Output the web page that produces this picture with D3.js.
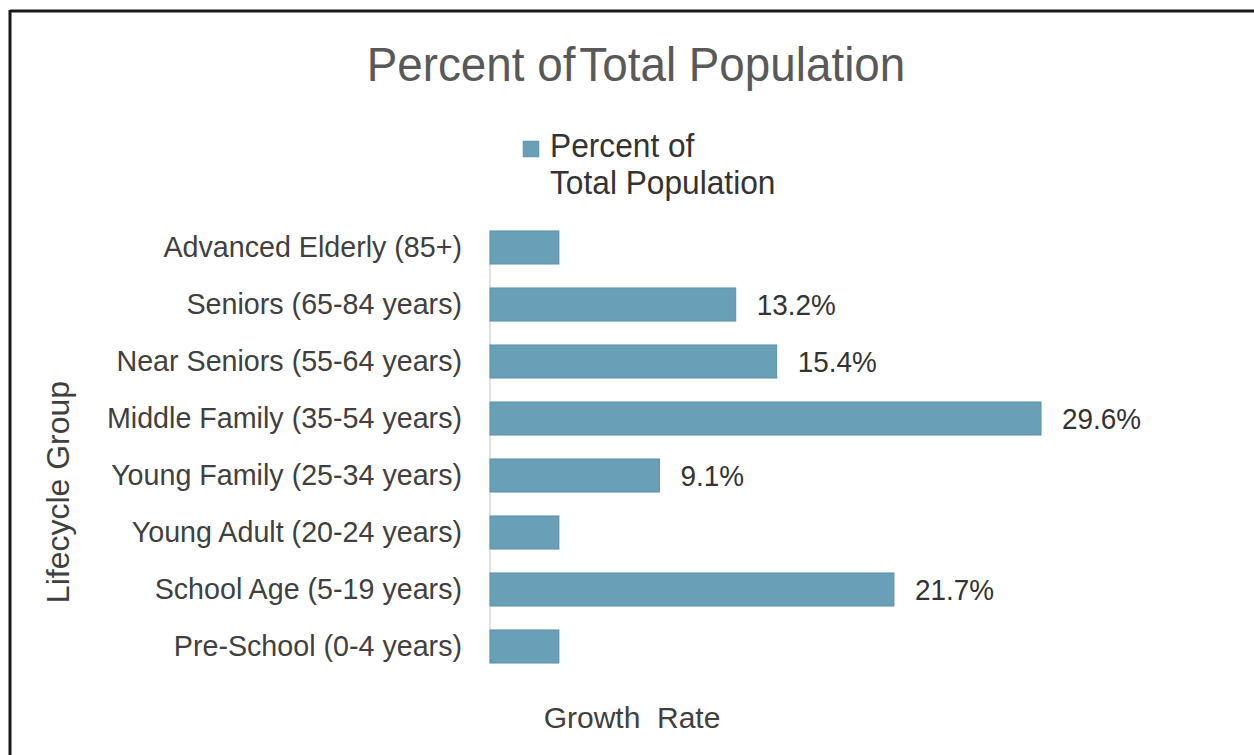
<!DOCTYPE html>
<html>
<head>
<meta charset="utf-8">
<script src="https://cdn.jsdelivr.net/npm/d3@7"></script>
<style>
  html, body { margin: 0; padding: 0; background: #fff; }
  svg { display: block; }
  text { font-family: "Liberation Sans", Arial, sans-serif; }
</style>
</head>
<body>
<svg id="chart" width="1254" height="755"></svg>
<script>
// Lifecycle groups, top to bottom
const categories = [
  "Advanced Elderly (85+)",
  "Seniors (65-84 years)",
  "Near Seniors (55-64 years)",
  "Middle Family (35-54 years)",
  "Young Family (25-34 years)",
  "Young Adult (20-24 years)",
  "School Age (5-19 years)",
  "Pre-School (0-4 years)"
];
// Percent of total population per group
const percentValues = [3.7, 13.2, 15.4, 29.6, 9.1, 3.7, 21.7, 3.7];
// Data labels shown beside the bars (blank where no label is printed)
const valueLabels = ["", "13.2%", "15.4%", "29.6%", "9.1%", "", "21.7%", ""];

const titleText = "Percent of\u200ATotal Population";
const legendLines = ["Percent of", "Total Population"];
const yAxisTitle = "Lifecycle Group";
const xAxisTitle = "Growth  Rate";

const barColor = "#6a9fb8";
const barStroke = "#5b91aa";
const textColor = "#404040";

const svg = d3.select("#chart");

// Squeeze a text element horizontally, keeping its height (narrow look)
function condense(sel, factor) {
  sel.each(function () {
    const w = this.getComputedTextLength();
    if (w > 0) {
      d3.select(this).attr("textLength", w * factor).attr("lengthAdjust", "spacingAndGlyphs");
    }
  });
}

// Frame lines along the top and left edges
svg.append("line").attr("x1", 10).attr("x2", 1254).attr("y1", 11).attr("y2", 11)
  .attr("stroke", "#1a1a1a").attr("stroke-width", 3);
svg.append("line").attr("x1", 10).attr("x2", 10).attr("y1", 10).attr("y2", 755)
  .attr("stroke", "#1a1a1a").attr("stroke-width", 3);

const x = d3.scaleLinear().domain([0, 30]).range([490, 490 + 30 * (551 / 29.6)]);
const y = d3.scaleBand().domain(categories).range([219, 675])
  .paddingInner(0.42).paddingOuter(0.21);

// Title
svg.append("text")
  .attr("x", 636).attr("y", 81)
  .attr("text-anchor", "middle")
  .attr("font-size", 49)
  .attr("fill", "#595959")
  .text(titleText)
  .call(condense, 0.935);

// Legend
const legend = svg.append("g");
legend.append("rect")
  .attr("x", 523).attr("y", 141).attr("width", 16).attr("height", 16)
  .attr("fill", barColor).attr("stroke", barStroke).attr("stroke-width", 0.5);
legend.selectAll("text.leg").data(legendLines).join("text")
  .attr("class", "leg")
  .attr("x", 550).attr("y", (d, i) => 157 + i * 37)
  .attr("font-size", 33)
  .attr("fill", "#333")
  .text(d => d)
  .call(condense, 0.96);

// Category axis
const yAxis = d3.axisLeft(y).tickSize(0).tickPadding(28);
const gy = svg.append("g").attr("transform", "translate(490,0)").call(yAxis);
gy.select(".domain").remove();
gy.selectAll(".tick text")
  .attr("font-size", 30)
  .attr("fill", textColor)
  .attr("font-family", "\"Liberation Sans\", Arial, sans-serif")
  .call(condense, 0.955);

// Axis line spanning the bars
svg.append("line")
  .attr("x1", x(0)).attr("x2", x(0))
  .attr("y1", y(categories[0]))
  .attr("y2", y(categories[categories.length - 1]) + y.bandwidth())
  .attr("stroke", "#d9d9d9").attr("stroke-width", 1.5);

// Bars
svg.append("g").selectAll("rect").data(percentValues).join("rect")
  .attr("x", x(0))
  .attr("y", (d, i) => y(categories[i]))
  .attr("width", d => x(d) - x(0))
  .attr("height", y.bandwidth())
  .attr("fill", barColor)
  .attr("stroke", barStroke)
  .attr("stroke-width", 1);

// Value labels
svg.append("g").selectAll("text").data(percentValues).join("text")
  .attr("x", d => x(d) + 21)
  .attr("y", (d, i) => y(categories[i]) + y.bandwidth() / 2)
  .attr("dy", "0.35em")
  .attr("font-size", 30)
  .attr("fill", "#333")
  .text((d, i) => valueLabels[i])
  .call(condense, 0.93);

// Axis titles
svg.append("text")
  .attr("transform", "translate(69,492) rotate(-90)")
  .attr("text-anchor", "middle")
  .attr("font-size", 32)
  .attr("fill", textColor)
  .text(yAxisTitle);

svg.append("text")
  .attr("x", 632).attr("y", 728)
  .attr("text-anchor", "middle")
  .attr("font-size", 30)
  .attr("fill", textColor)
  .attr("xml:space", "preserve")
  .style("white-space", "pre")
  .text(xAxisTitle);
</script>
</body>
</html>
